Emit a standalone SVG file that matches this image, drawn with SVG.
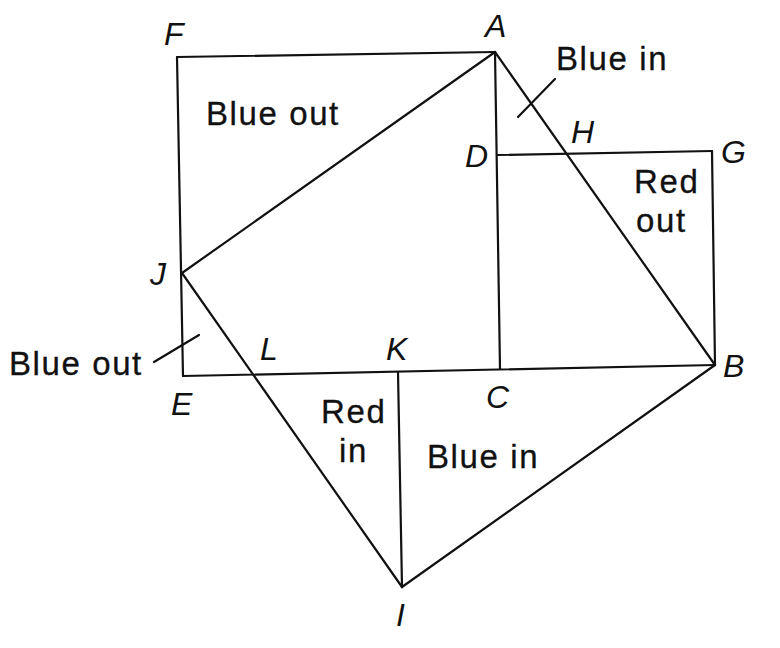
<svg xmlns="http://www.w3.org/2000/svg" width="780" height="648" viewBox="0 0 780 648">
<style>
.ln{stroke:#111;stroke-width:2.2;fill:none;stroke-linecap:round;stroke-linejoin:round}
.pt{font-family:"Liberation Sans",Arial,sans-serif;font-style:italic;font-size:32px;fill:#111}
.rg{font-family:"Liberation Sans",Arial,sans-serif;font-size:33px;letter-spacing:1.6px;fill:#111;stroke:#111;stroke-width:0.3}
</style>
<rect width="780" height="648" fill="#fff"/>
<g id="connectors" class="ln">
<line x1="177" y1="57" x2="495" y2="52"/>
<line x1="177" y1="57" x2="183" y2="376"/>
<line x1="495" y1="52" x2="182" y2="273"/>
<line x1="495" y1="52" x2="500" y2="369"/>
<line x1="495" y1="52" x2="715" y2="365"/>
<line x1="497" y1="155" x2="712" y2="151"/>
<line x1="712" y1="151" x2="715" y2="365"/>
<line x1="183" y1="376" x2="715" y2="365"/>
<line x1="182" y1="273" x2="402" y2="587"/>
<line x1="398" y1="372" x2="402" y2="587"/>
<line x1="402" y1="587" x2="715" y2="365"/>
<line x1="518" y1="117" x2="555" y2="79"/>
<line x1="154" y1="362" x2="199" y2="335"/>
</g>
<g id="F"><text class="pt" x="164" y="45">F</text></g>
<g id="A"><text class="pt" x="485" y="37">A</text></g>
<g id="D"><text class="pt" x="465" y="167">D</text></g>
<g id="H"><text class="pt" x="571" y="143">H</text></g>
<g id="G"><text class="pt" x="721" y="163">G</text></g>
<g id="J"><text class="pt" x="150" y="285">J</text></g>
<g id="L"><text class="pt" x="260" y="360">L</text></g>
<g id="K"><text class="pt" x="386" y="360">K</text></g>
<g id="E"><text class="pt" x="171" y="415">E</text></g>
<g id="C"><text class="pt" x="486" y="408">C</text></g>
<g id="B"><text class="pt" x="723" y="377">B</text></g>
<g id="I"><text class="pt" x="396" y="626">I</text></g>
<g id="blue-out-top"><text class="rg" x="206" y="125">Blue out</text></g>
<g id="blue-in-top"><text class="rg" x="556" y="70">Blue in</text></g>
<g id="red-out"><text class="rg" x="634" y="193">Red</text><text class="rg" x="636" y="232">out</text></g>
<g id="blue-out-left"><text class="rg" x="9" y="375">Blue out</text></g>
<g id="red-in"><text class="rg" x="321" y="423">Red</text><text class="rg" x="339" y="462">in</text></g>
<g id="blue-in-bottom"><text class="rg" x="427" y="468">Blue in</text></g>
</svg>
